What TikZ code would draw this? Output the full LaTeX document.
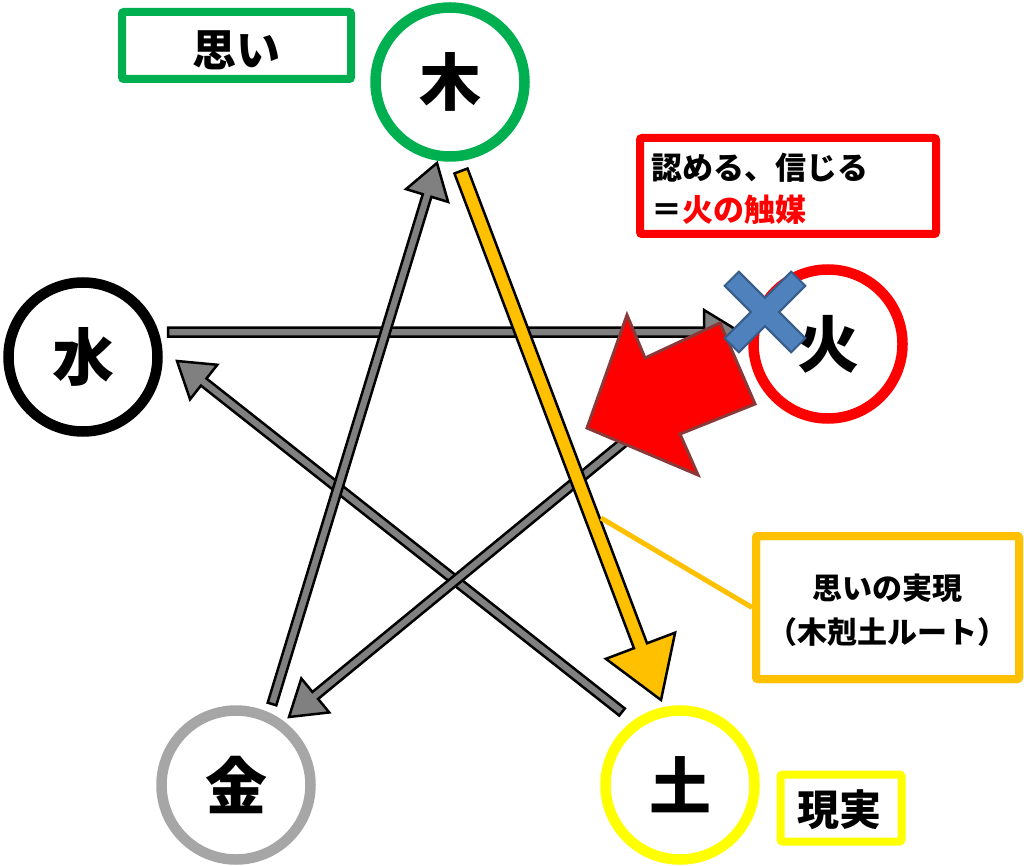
\documentclass[tikz,border=0pt]{standalone}
\usepackage{fontspec}
\newfontfamily\jp{Noto Sans CJK JP}
\usetikzlibrary{calc}
\definecolor{cgreen}{RGB}{0,176,80}
\definecolor{cgray}{RGB}{166,166,166}
\definecolor{cyellow}{RGB}{255,255,0}
\definecolor{corange}{RGB}{255,192,0}
\definecolor{cred}{RGB}{255,0,0}
\definecolor{arrgray}{RGB}{128,128,128}
\definecolor{redline}{RGB}{140,56,56}
\definecolor{bluefill}{RGB}{79,129,189}
\definecolor{blueline}{RGB}{56,93,138}
\newcommand\blkarrow[6]{%
  \coordinate (ba-b) at ($(#3)!#5!(#2)$);
  \draw[#1] ($(#2)!#4!90:(#3)$) -- ($(ba-b)!#4!90:(#3)$) -- ($(ba-b)!#6!90:(#3)$) -- (#3)
    -- ($(ba-b)!#6!-90:(#3)$) -- ($(ba-b)!#4!-90:(#3)$) -- ($(#2)!#4!-90:(#3)$) -- cycle;}
\begin{document}
\begin{tikzpicture}[x=1pt,y=-1pt,
  elem/.style={circle, draw=#1, fill=white, line width=10.5pt, minimum size=149pt, inner sep=0pt,
    font=\jp\bfseries\fontsize{62}{62}\selectfont},
  lbox/.style={draw=#1, line width=8pt, rounded corners=2pt, inner sep=0pt},
  garrow/.style={fill=arrgray, draw=black, line width=2.5pt, line join=miter},
  oarrow/.style={fill=corange, draw=black, line width=2.5pt, line join=miter},
  txt/.style={inner sep=0pt, font=\jp\bfseries\fontsize{#1}{#1}\selectfont},
  txttwo/.style 2 args={inner sep=0pt, font=\jp\bfseries\fontsize{#1}{#2}\selectfont}]
\useasboundingbox (0,0) rectangle (1024,866);
\fill[white] (0,0) rectangle (1024,866);
% elements
\node[elem=cgreen] (moku) at (450,82) {木};
\node[elem=black] (sui) at (83,357) {水};
\node[elem=cred] (ka) at (828,344) {火};
\node[elem=cgray] (kin) at (236,785) {金};
\node[elem=cyellow] (do) at (680,785) {土};
% arrow end points
\coordinate (a1s) at (272,704); \coordinate (a1t) at (437,163);
\coordinate (a2s) at (680,396); \coordinate (a2t) at (289,717);
\coordinate (a3s) at (622,712); \coordinate (a3t) at (177,361);
\coordinate (a4s) at (168,332); \coordinate (a4t) at (740,332);
\coordinate (os) at (461,171); \coordinate (ot) at (661,700);
% gray arrows
\blkarrow{garrow}{a3s}{a3t}{4.5pt}{34pt}{22pt}
\blkarrow{garrow}{a4s}{a4t}{4.5pt}{36pt}{22pt}
\blkarrow{garrow}{a1s}{a1t}{4.5pt}{34pt}{22pt}
\blkarrow{garrow}{a2s}{a2t}{4.5pt}{34pt}{22pt}
% orange arrow
\blkarrow{oarrow}{os}{ot}{7pt}{58pt}{37pt}
% callout
\coordinate (co) at (601,518);
\node[lbox=corange, minimum width=263pt, minimum height=143pt] (jitsugen) at (887.5,607.5) {};
\draw[corange, line width=5pt] (jitsugen.west) -- (co);
\node[lbox=corange, minimum width=263pt, minimum height=143pt] at (887.5,607.5) {};
\node[txttwo={30}{44}, align=center] (jitsugentxt) at (887,610) {思いの実現\\（木剋土ルート）};
% red arrow
\draw[fill=cred, draw=redline, line width=3pt, line join=miter] (587,428) -- (627,315) -- (645,358) -- (720,323) -- (755,404) -- (680,434) -- (698,475) -- cycle;
% blue cross
\draw[fill=bluefill, draw=blueline, line width=2pt, shift={(765,312)}, rotate=45]
  (10,47) -- (-10,47) -- (-10,10) -- (-47,10) -- (-47,-10) -- (-10,-10) -- (-10,-47) -- (10,-47) -- (10,-10) -- (47,-10) -- (47,10) -- (10,10) -- cycle;
% boxes
\node[lbox=cgreen, minimum width=229pt, minimum height=67pt] (omoi) at (236.5,45.5) {};
\node[txt=44] (omoitxt) at (236,50) {思い};
\node[lbox=cred, minimum width=296pt, minimum height=96pt] (shokubai) at (788,186) {};
\node[txttwo={31}{42}, anchor=west, align=left] (shokubaitxt) at (651,189) {認める、信じる\\＝\textcolor{cred}{火の触媒}};
\node[lbox=cyellow, minimum width=121pt, minimum height=67pt] (genjitsu) at (841,808) {};
\node[txt=42] (genjitsutxt) at (839,810) {現実};
\end{tikzpicture}
\end{document}
